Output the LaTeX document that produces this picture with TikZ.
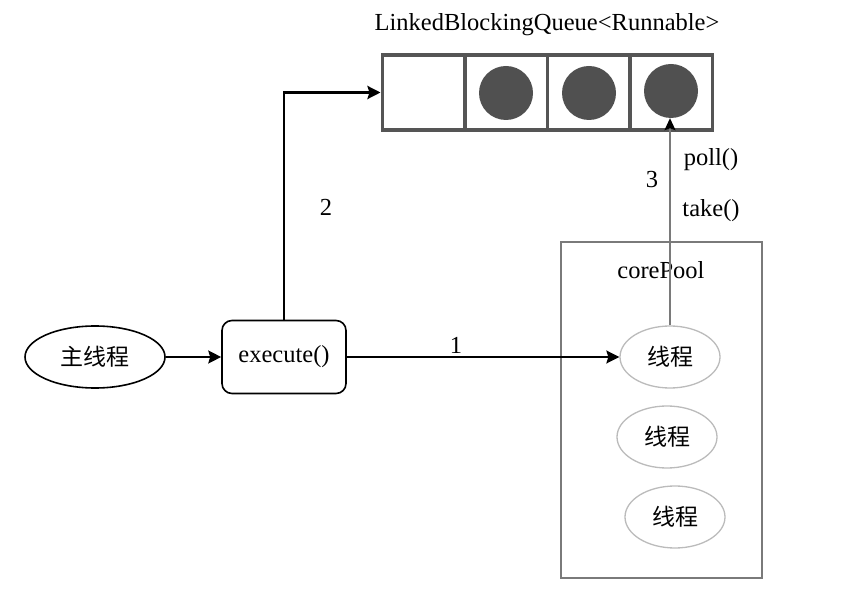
\documentclass[tikz,border=0pt]{standalone}
\usepackage{fontspec}
\setmainfont{Liberation Serif}
\newfontfamily\cjk{Noto Sans CJK SC}
\usetikzlibrary{arrows.meta,shapes.geometric}
\definecolor{qgray}{HTML}{555555}
\definecolor{dotgray}{HTML}{505050}
\definecolor{poolgray}{HTML}{7A7A7A}
\definecolor{thrgray}{HTML}{BBBBBB}

\begin{document}
\begin{tikzpicture}[x=1pt, y=-1pt, font=\fontsize{24.5}{28}\selectfont]
%\draw[very thin, color = gray](0, 0) grid[step=50] (846, 593);
\useasboundingbox (0, 0) rectangle (846, 593);
\tikzstyle{cell} = [draw = qgray, line width = 3.5pt, rectangle, minimum width = 82.5pt, minimum height = 75pt, inner sep = 0pt];
\tikzstyle{dot} = [circle, fill = dotgray, minimum size = 54pt, inner sep = 0pt];
\tikzstyle{thread} = [draw = thrgray, line width = 1.3pt, ellipse, minimum width = 100pt, minimum height = 62pt, font = \cjk\fontsize{23}{26}\selectfont];
\tikzstyle{line} = [draw, -{Stealth[length = 13pt, width = 13pt, inset = 2pt]}, line width = 1.6pt]
% queue
\node [cell] at (423.5, 92.5) (q1) {};
\node [cell] at (506, 92.5) (q2) {};
\node [cell] at (588.5, 92.5) (q3) {};
\node [cell] at (671, 92.5) (q4) {};
\node [dot] at (506, 93) (c2) {};
\node [dot] at (589, 93) (c3) {};
\node [dot] at (671, 91) (c4) {};
\node at (547, 25) (qname) {LinkedBlockingQueue<Runnable>};
% main thread, execute
\node [draw, line width = 1.6pt, ellipse, minimum width = 140pt, minimum height = 62pt, font = \cjk\fontsize{23}{26}\selectfont] at (95, 357) (main) {主线程};
\node [draw, line width = 1.6pt, rectangle, rounded corners = 10pt, minimum width = 124pt, minimum height = 73pt] at (284, 357) (exe) {execute()};
% core pool
\node [draw = poolgray, line width = 2.8pt, rectangle, minimum width = 201pt, minimum height = 336pt] at (661.5, 410) (pool) {};
\node at (661, 270) (poolname) {corePool};
\node [thread] at (670, 357) (t1) {线程};
\node [thread] at (667, 437) (t2) {线程};
\node [thread] at (675, 517) (t3) {线程};
% arrows
\path [line] (main) -- (exe);
\path [line] (exe) -- (t1);
\path [line, line width = 2.6pt] (exe.north) |- (q1.west);
\path [draw = poolgray, line width = 1.3pt, -{Stealth[length = 12pt, width = 11pt, inset = 2pt, color = black]}] (t1.north) -- (t1.north |- c4.south);
\node at (456, 345) (one) {1};
\node at (326, 207) (two) {2};
\node at (652, 180) (three) {3};
\node at (711, 160) (poll) {poll()};
\node at (711, 211) (take) {take()};
\end{tikzpicture}
\end{document}
